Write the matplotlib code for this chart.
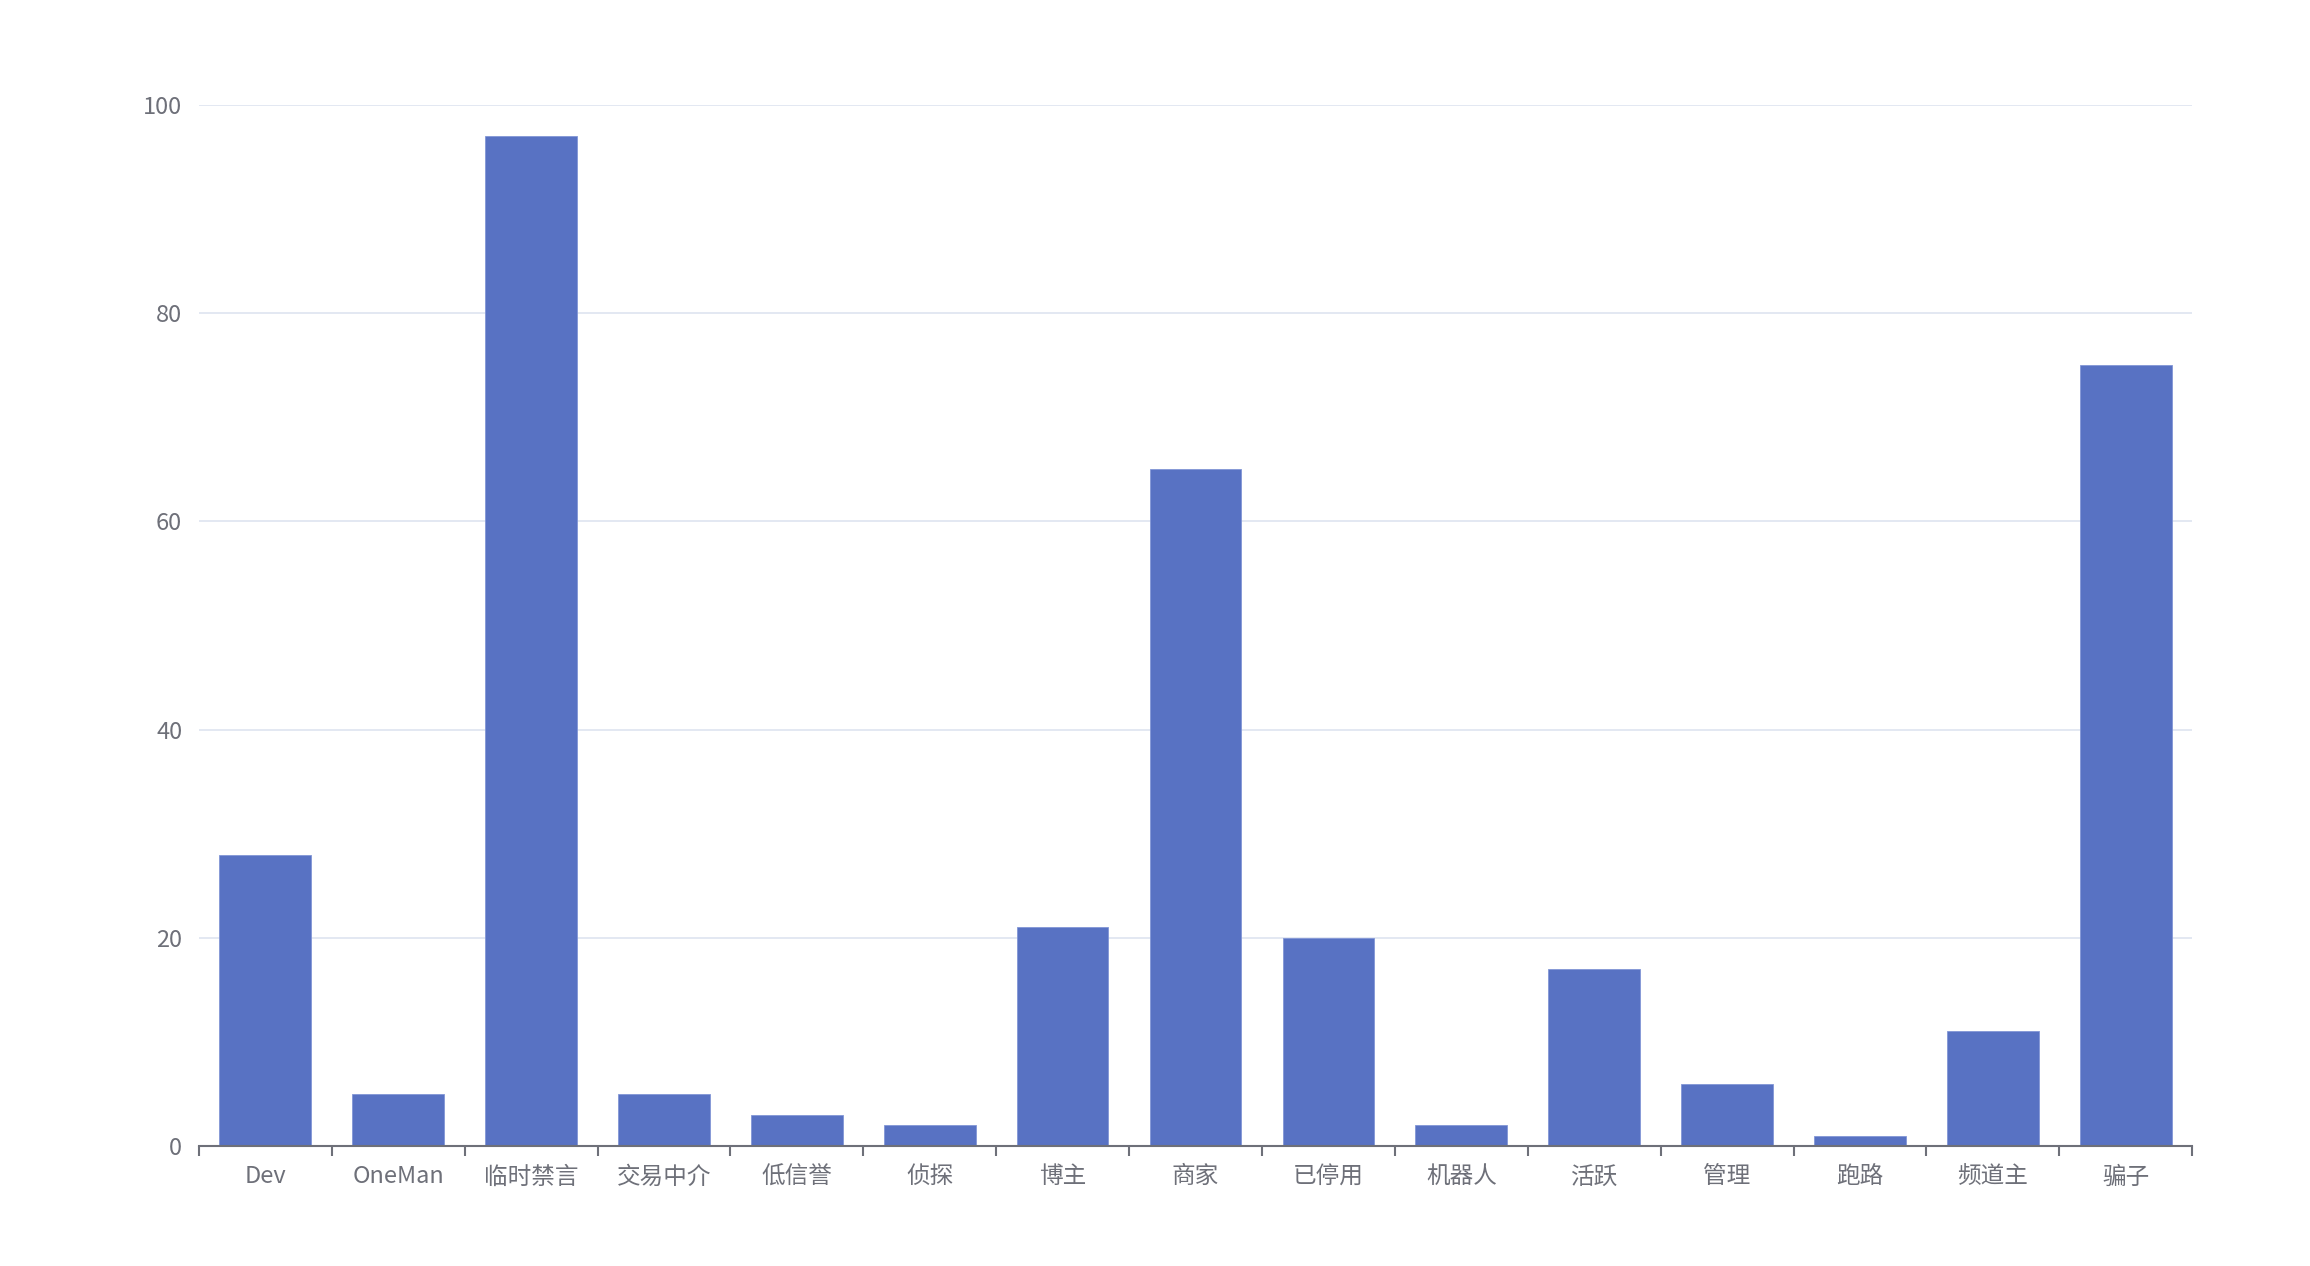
import numpy as np
import matplotlib.pyplot as plt
from matplotlib.ticker import FixedLocator

plt.rcParams['font.family'] = ['Noto Sans CJK SC', 'DejaVu Sans']

# Datos del gráfico
categorias = ['Dev', 'OneMan', '临时禁言', '交易中介', '低信誉', '侦探', '博主', '商家',
              '已停用', '机器人', '活跃', '管理', '跑路', '频道主', '骗子']
valores = [28, 5, 97, 5, 3, 2, 21, 65, 20, 2, 17, 6, 1, 11, 75]
y_ticks = [0, 20, 40, 60, 80, 100]

fig = plt.figure(figsize=(23.1, 12.66), dpi=100)
ax = fig.add_axes([0.0861, 0.0948, 0.949 - 0.0861, 0.917 - 0.0948])

x = np.arange(len(categorias))
ax.bar(x, valores, width=0.69, color='#5872c3', edgecolor='#8296d6', linewidth=0.6, zorder=3)

ax.set_xlim(-0.5, len(categorias) - 0.5)
ax.set_ylim(0, 100)

# Rejilla horizontal
ax.set_yticks(y_ticks)
ax.grid(axis='y', color='#E0E6F1', linewidth=1.3, zorder=0)

for s in ['top', 'right', 'left']:
    ax.spines[s].set_visible(False)
ax.spines['bottom'].set_color('#6E7079')
ax.spines['bottom'].set_linewidth(1.5)
ax.spines['bottom'].set_zorder(4)

# Ticks entre categorías
ax.set_xticks(x)
ax.set_xticklabels(categorias)
ax.xaxis.set_minor_locator(FixedLocator(np.arange(-0.5, len(categorias), 1.0)))
ax.tick_params(axis='x', which='major', length=0, pad=14, labelsize=17, labelcolor='#6E7079')
ax.tick_params(axis='x', which='minor', length=7, width=1.5, color='#6E7079')
ax.tick_params(axis='y', length=0, pad=12, labelsize=17, labelcolor='#6E7079')

fig.savefig('out.png', dpi=100, facecolor='white')
